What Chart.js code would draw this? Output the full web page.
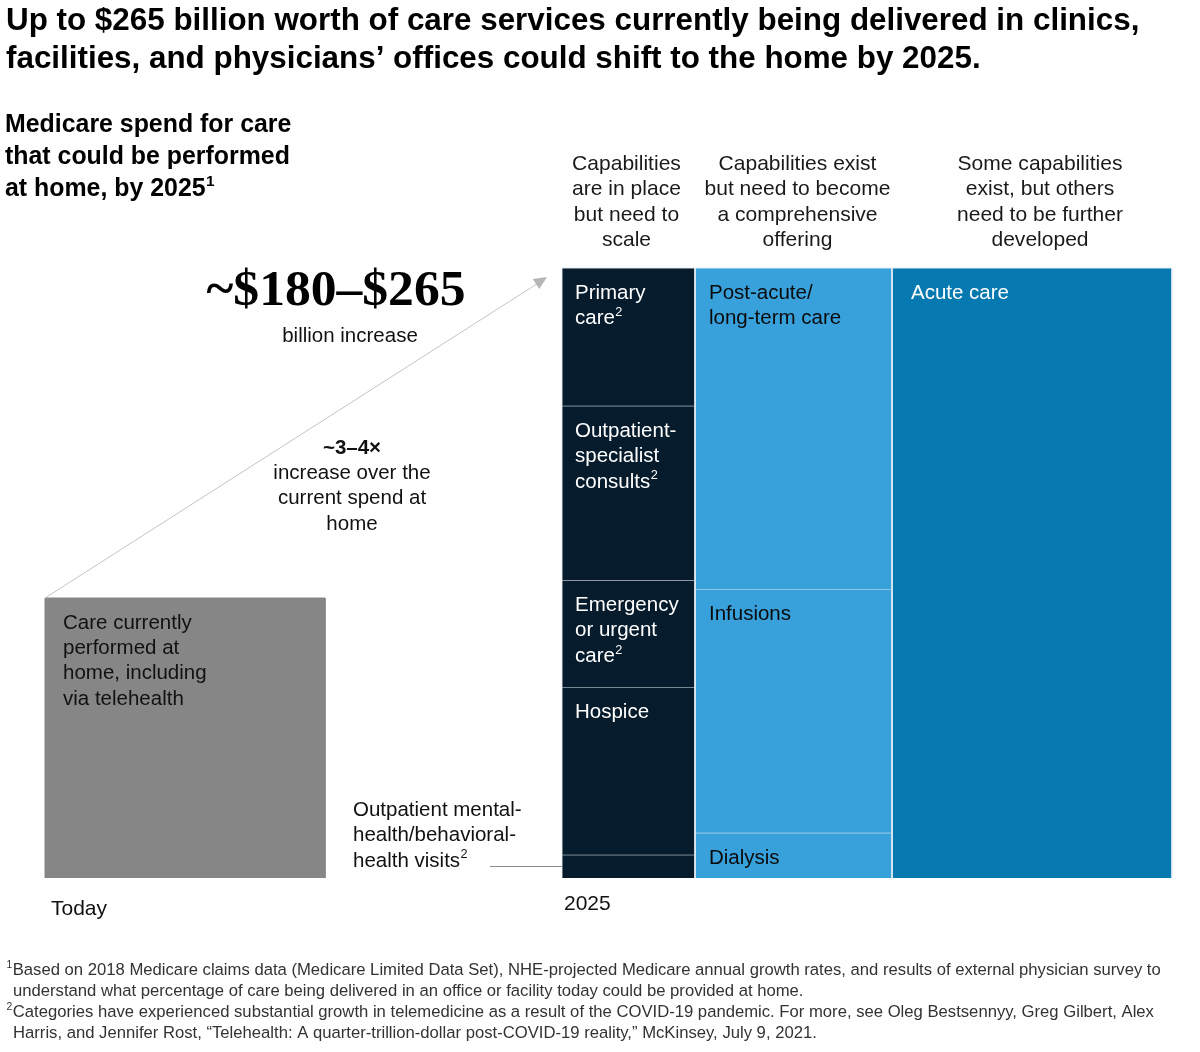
<!DOCTYPE html>
<html>
<head>
<meta charset="utf-8">
<style>
html,body{margin:0;padding:0;background:#fff;}
#wrap{position:relative;width:1200px;height:1052px;}
</style>
<script src="https://cdn.jsdelivr.net/npm/chart.js@4.4.1/dist/chart.umd.min.js"></script>
</head>
<body>
<div id="wrap"><canvas id="c" width="1200" height="1052"></canvas></div>
<script>
// ---------------- DATA ----------------
const titleLines = [
  "Up to $265 billion worth of care services currently being delivered in clinics,",
  "facilities, and physicians\u2019 offices could shift to the home by 2025."
];
const subtitleLines = ["Medicare spend for care", "that could be performed", "at home, by 2025{1}"];
const columnHeaders = [
  ["Capabilities", "are in place", "but need to", "scale"],
  ["Capabilities exist", "but need to become", "a comprehensive", "offering"],
  ["Some capabilities", "exist, but others", "need to be further", "developed"]
];
// width of each 2025 column, % of total 2025 width
const columnWidths = [21.8, 32.3, 45.9];
const columnColors = ["#061b2c", "#38a1db", "#0679b1"];
const columnTextColors = ["#ffffff", "#0a0a0a", "#ffffff"];
const segmentNames = [
  ["Primary care", "Outpatient-specialist consults", "Emergency or urgent care", "Hospice", "Outpatient mental-health/behavioral-health visits"],
  ["Post-acute/long-term care", "Infusions", "Dialysis"],
  ["Acute care"]
];
// share of each segment within its column, % (top to bottom)
const segmentShares = [
  [22.6, 28.6, 17.5, 27.5, 3.8],
  [52.7, 39.9, 7.4],
  [100]
];
const segmentLabelLines = [
  [["Primary", "care{2}"], ["Outpatient-", "specialist", "consults{2}"], ["Emergency", "or urgent", "care{2}"], ["Hospice"], []],
  [["Post-acute/", "long-term care"], ["Infusions"], ["Dialysis"]],
  [["Acute care"]]
];
const mentalHealthLabel = ["Outpatient mental-", "health/behavioral-", "health visits{2}"];
// today's spend, in the same units (2025 total = 100 x 100)
const todayWidth = [45.9];
const todayHeight = [45.9];
const todayLabel = ["Care currently", "performed at", "home, including", "via telehealth"];
const periodLabels = ["Today", "2025"];
const bigNumber = "~$180\u2013$265";
const bigNumberSub = "billion increase";
const multiplierLabel = "~3\u20134\u00d7";
const multiplierText = ["increase over the", "current spend at", "home"];
const footnotes = [
  "{1}Based on 2018 Medicare claims data (Medicare Limited Data Set), NHE-projected Medicare annual growth rates, and results of external physician survey to",
  "understand what percentage of care being delivered in an office or facility today could be provided at home.",
  "{2}Categories have experienced substantial growth in telemedicine as a result of the COVID-19 pandemic. For more, see Oleg Bestsennyy, Greg Gilbert, Alex",
  "Harris, and Jennifer Rost, \u201cTelehealth: A quarter-trillion-dollar post-COVID-19 reality,\u201d McKinsey, July 9, 2021."
];

// ---------------- LAYOUT ----------------
const X_MAX = 184.75;      // x-axis extent in value units
const MEKKO_X0 = 84.75;    // where the 2025 block starts on the x-axis
const SANS = '"Liberation Sans", Arial, sans-serif';
const SERIF = '"Liberation Serif", "Times New Roman", serif';
const HEADER_SHIFT = [-2, 4, 8];
const LABEL_X_OFF = [13, 14, 19];

// build rectangles from the data
const rects = [];
let xCursor = MEKKO_X0;
columnWidths.forEach((w, ci) => {
  let top = 100;
  segmentShares[ci].forEach((s, si) => {
    rects.push({ci, si, x0: xCursor, x1: xCursor + w, top: top, bottom: top - s,
      color: columnColors[ci], textColor: columnTextColors[ci], lines: segmentLabelLines[ci][si], name: segmentNames[ci][si]});
    top -= s;
  });
  xCursor += w;
});

function rectDataset(label, x0, x1, bottom, top, color, border) {
  return {
    label: label,
    data: [{x: x0, y: bottom}, {x: x0, y: top}, {x: x1, y: top}, {x: x1, y: bottom}],
    showLine: true,
    fill: {value: bottom},
    backgroundColor: color,
    borderColor: border,
    borderWidth: 1,
    pointRadius: 0,
    tension: 0,
    clip: false
  };
}

const datasets = [rectDataset("Today", 0, todayWidth[0], 0, todayHeight[0], "#868686", "#868686")];
rects.forEach(r => datasets.push(rectDataset(r.name, r.x0, r.x1, r.bottom, r.top, r.color, "rgba(235,240,245,0.9)")));

// ---------------- TEXT HELPERS ----------------
function parseRich(str) {
  const parts = [];
  const re = /\{([^}]*)\}/g;
  let last = 0, m;
  while ((m = re.exec(str)) !== null) {
    if (m.index > last) parts.push({t: str.slice(last, m.index), sup: false});
    parts.push({t: m[1], sup: true});
    last = re.lastIndex;
  }
  if (last < str.length) parts.push({t: str.slice(last), sup: false});
  return parts;
}
function richWidth(ctx, str, size, weight, family) {
  let w = 0;
  parseRich(str).forEach(p => {
    ctx.font = weight + " " + (p.sup ? size * 0.62 : size) + "px " + family;
    w += ctx.measureText(p.t).width + (p.sup ? 1 : 0);
  });
  return w;
}
function drawRich(ctx, str, x, y, size, weight, family, color, align) {
  const w = richWidth(ctx, str, size, weight, family);
  let cx = x;
  if (align === "center") cx = x - w / 2;
  else if (align === "right") cx = x - w;
  ctx.fillStyle = color;
  ctx.textBaseline = "middle";
  ctx.textAlign = "left";
  parseRich(str).forEach(p => {
    const s = p.sup ? size * 0.62 : size;
    ctx.font = weight + " " + s + "px " + family;
    ctx.fillText(p.t, cx + (p.sup ? 0.5 : 0), p.sup ? y - size * 0.3 : y);
    cx += ctx.measureText(p.t).width + (p.sup ? 1 : 0);
  });
}
function fitSize(ctx, str, size, weight, family, target) {
  const w = richWidth(ctx, str, size, weight, family);
  let s = size * target / w;
  return Math.max(size * 0.85, Math.min(size * 1.15, s));
}

// ---------------- PLUGIN ----------------
const annotations = {
  id: "annotations",
  afterDatasetsDraw(chart) {
    const ctx = chart.ctx;
    const xs = chart.scales.x, ys = chart.scales.y;
    ctx.save();

    // title
    const ts = fitSize(ctx, titleLines[0], 29, "bold", SANS, 1134);
    drawRich(ctx, titleLines[0], 6, 21, ts, "bold", SANS, "#000", "left");
    drawRich(ctx, titleLines[1], 6, 59, ts, "bold", SANS, "#000", "left");

    // subtitle
    const ss = fitSize(ctx, subtitleLines[1], 24, "bold", SANS, 285);
    subtitleLines.forEach((l, i) => drawRich(ctx, l, 5, 125 + i * 32, ss, "bold", SANS, "#000", "left"));

    // column headers
    const hs = fitSize(ctx, columnHeaders[1][1], 20.5, "normal", SANS, 186);
    let cx = MEKKO_X0;
    columnWidths.forEach((w, ci) => {
      const center = (xs.getPixelForValue(cx) + xs.getPixelForValue(cx + w)) / 2 + HEADER_SHIFT[ci];
      columnHeaders[ci].forEach((l, i) => drawRich(ctx, l, center, 164 + i * 25.5, hs, "normal", SANS, "#1a1a1a", "center"));
      cx += w;
    });

    const bs = 20.5;
    // labels inside rectangles
    rects.forEach(r => {
      const px = xs.getPixelForValue(r.x0) + LABEL_X_OFF[r.ci];
      const py = ys.getPixelForValue(r.top) + 25;
      r.lines.forEach((l, i) => drawRich(ctx, l, px, py + i * 25.5, bs, "normal", SANS, r.textColor, "left"));
    });

    // today box label
    const tx = xs.getPixelForValue(0), ty = ys.getPixelForValue(todayHeight[0]);
    todayLabel.forEach((l, i) => drawRich(ctx, l, tx + 18, ty + 25 + i * 25.3, bs, "normal", SANS, "#111", "left"));

    // period labels
    drawRich(ctx, periodLabels[0], tx + 6, ys.getPixelForValue(0) + 31, 21, "normal", SANS, "#111", "left");
    drawRich(ctx, periodLabels[1], xs.getPixelForValue(MEKKO_X0) + 2, ys.getPixelForValue(0) + 26, 21, "normal", SANS, "#111", "left");

    // diagonal arrow
    const ax = xs.getPixelForValue(MEKKO_X0) - 15, ay = ys.getPixelForValue(100) + 9;
    ctx.strokeStyle = "#c4c4c4";
    ctx.lineWidth = 1;
    ctx.beginPath();
    ctx.moveTo(tx, ty);
    ctx.lineTo(ax - 4, ay + 3);
    ctx.stroke();
    const ang = Math.atan2(ay - ty, ax - tx);
    const L = 13, H = 6;
    ctx.fillStyle = "#b5b5b5";
    ctx.beginPath();
    ctx.moveTo(ax, ay);
    ctx.lineTo(ax - L * Math.cos(ang) + H * Math.sin(ang), ay - L * Math.sin(ang) - H * Math.cos(ang));
    ctx.lineTo(ax - L * Math.cos(ang) - H * Math.sin(ang), ay - L * Math.sin(ang) + H * Math.cos(ang));
    ctx.closePath();
    ctx.fill();

    // big number
    const ns = fitSize(ctx, bigNumber, 50, "bold", SERIF, 259);
    drawRich(ctx, bigNumber, 336, 292, ns, "bold", SERIF, "#000", "center");
    drawRich(ctx, bigNumberSub, 350, 336, bs, "normal", SANS, "#111", "center");
    drawRich(ctx, multiplierLabel, 352, 448, bs, "bold", SANS, "#111", "center");
    multiplierText.forEach((l, i) => drawRich(ctx, l, 352, 473 + i * 25.5, bs, "normal", SANS, "#111", "center"));

    // mental-health callout
    const mh = rects.find(r => r.ci === 0 && r.si === 4);
    const my = Math.round((ys.getPixelForValue(mh.top) + ys.getPixelForValue(mh.bottom)) / 2) + 0.5;
    const mx = xs.getPixelForValue(mh.x0);
    ctx.strokeStyle = "#8a8a8a";
    ctx.beginPath();
    ctx.moveTo(mx - 72, my);
    ctx.lineTo(mx, my);
    ctx.stroke();
    mentalHealthLabel.forEach((l, i) => drawRich(ctx, l, 353, my - 56 + i * 25.3, bs, "normal", SANS, "#111", "left"));

    // footnotes
    const fs = fitSize(ctx, footnotes[0], 15.5, "normal", SANS, 1156);
    const fx = [6, 13, 6, 13];
    footnotes.forEach((l, i) => drawRich(ctx, l, fx[i], 970 + i * 21, fs, "normal", SANS, "#333", "left"));

    ctx.restore();
  }
};

new Chart(document.getElementById("c"), {
  type: "scatter",
  data: {datasets: datasets},
  options: {
    responsive: false,
    animation: false,
    events: [],
    layout: {padding: {left: 45, right: 28, top: 268, bottom: 174}},
    scales: {
      x: {type: "linear", min: 0, max: X_MAX, display: false},
      y: {type: "linear", min: 0, max: 100, display: false}
    },
    plugins: {legend: {display: false}, tooltip: {enabled: false}}
  },
  plugins: [annotations]
});
</script>
</body>
</html>
